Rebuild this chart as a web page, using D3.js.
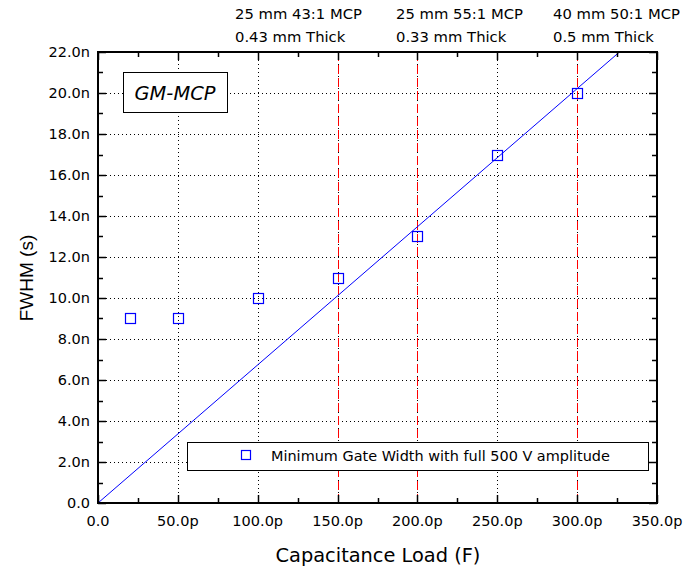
<!DOCTYPE html>
<html><head><meta charset="utf-8">
<script src="https://cdn.jsdelivr.net/npm/d3@7"></script>
<style>body{margin:0;background:#fff;} svg{display:block;}</style>
</head><body>
<script>
// Data (x in pF, y in ns)
const capacitance = [20, 50, 100, 150, 200, 250, 300];
const fwhm = [9, 9, 10, 11, 13, 17, 20];
const fitX = [0, 326.5];
const fitY = [0, 22];
const xTicks = [0, 50, 100, 150, 200, 250, 300, 350];
const xTickLabels = ["0.0","50.0p","100.0p","150.0p","200.0p","250.0p","300.0p","350.0p"];
const yTicks = [0,2,4,6,8,10,12,14,16,18,20,22];
const yTickLabels = ["0.0","2.0n","4.0n","6.0n","8.0n","10.0n","12.0n","14.0n","16.0n","18.0n","20.0n","22.0n"];
const markerLines = [150, 200, 300];
const annotations = [
  ["25 mm 43:1 MCP", "0.43 mm Thick"],
  ["25 mm 55:1 MCP", "0.33 mm Thick"],
  ["40 mm 50:1 MCP", "0.5 mm Thick"]
];
const legendLabel = "Minimum Gate Width with full 500 V amplitude";
const boxLabel = "GM-MCP";
const xTitle = "Capacitance Load (F)";
const yTitle = "FWHM (s)";

const W = 690, H = 572;
const L = 98, R = 657, T = 52, B = 503;
const font = "DejaVu Sans, Tahoma, sans-serif";
const svg = d3.select("body").append("svg").attr("width", W).attr("height", H);
const x = d3.scaleLinear().domain([0, 350]).range([L, R]);
const y = d3.scaleLinear().domain([0, 22]).range([B, T]);
const px = v => Math.round(x(v)) + 0.5;
const py = v => Math.round(y(v)) + 0.5;

// fit a text element's font-size so its width matches target
function fitWidth(sel, target) {
  const n = sel.node();
  const fs = +sel.attr("font-size");
  const w = n.getComputedTextLength();
  if (w > 0) sel.attr("font-size", (fs * target / w).toFixed(2));
  return sel;
}

// grid
const g = svg.append("g");
g.selectAll(".vg").data(xTicks.slice(1, -1)).enter().append("line")
  .attr("x1", d => px(d)).attr("x2", d => px(d)).attr("y1", T).attr("y2", B)
  .attr("stroke", "#000").attr("stroke-width", 1).attr("stroke-dasharray", "1,3");
g.selectAll(".hg").data(yTicks.slice(1, -1)).enter().append("line")
  .attr("x1", L).attr("x2", R).attr("y1", d => py(d)).attr("y2", d => py(d))
  .attr("stroke", "#000").attr("stroke-width", 1).attr("stroke-dasharray", "1,3");
// red dashed markers
g.selectAll(".rl").data(markerLines).enter().append("line")
  .attr("x1", d => px(d)).attr("x2", d => px(d)).attr("y1", T).attr("y2", B)
  .attr("stroke", "#ff0000").attr("stroke-width", 1).attr("stroke-dasharray", "9,4");

// fit line
svg.append("clipPath").attr("id", "clip").append("rect").attr("x", L).attr("y", T).attr("width", R - L).attr("height", B - T);
svg.append("path").attr("clip-path", "url(#clip)")
  .datum(fitX.map((v, i) => [v, fitY[i]]))
  .attr("d", d3.line().x(d => x(d[0])).y(d => y(d[1])))
  .attr("fill", "none").attr("stroke", "#0000ff").attr("stroke-width", 1);

// points
svg.selectAll(".pt").data(capacitance).enter().append("rect")
  .attr("x", d => px(d) - 5).attr("y", (d, i) => py(fwhm[i]) - 5)
  .attr("width", 10).attr("height", 10)
  .attr("fill", "none").attr("stroke", "#0000ff").attr("stroke-width", 1.2);

// axes ticks (inward)
const minorX = d3.range(25, 350, 50);
const minorY = d3.range(1, 22, 2);
function ticks(vals, len, axis) {
  vals.forEach(v => {
    if (axis === "x") {
      svg.append("line").attr("x1", px(v)).attr("x2", px(v)).attr("y1", B).attr("y2", B - len).attr("stroke", "#000").attr("stroke-width", 1.5);
      svg.append("line").attr("x1", px(v)).attr("x2", px(v)).attr("y1", T).attr("y2", T + len).attr("stroke", "#000").attr("stroke-width", 1.5);
    } else {
      svg.append("line").attr("x1", L).attr("x2", L + len).attr("y1", py(v)).attr("y2", py(v)).attr("stroke", "#000").attr("stroke-width", 1.5);
      svg.append("line").attr("x1", R).attr("x2", R - len).attr("y1", py(v)).attr("y2", py(v)).attr("stroke", "#000").attr("stroke-width", 1.5);
    }
  });
}
ticks(xTicks, 8, "x"); ticks(minorX, 5, "x");
ticks(yTicks, 8, "y"); ticks(minorY, 5, "y");

// frame
svg.append("rect").attr("x", L).attr("y", T).attr("width", R - L).attr("height", B - T)
  .attr("fill", "none").attr("stroke", "#000").attr("stroke-width", 2);

// tick labels
svg.selectAll(".xl").data(xTicks).enter().append("text")
  .attr("x", d => x(d)).attr("y", B + 23).attr("text-anchor", "middle")
  .attr("font-family", font).attr("font-size", 14.5).text((d, i) => xTickLabels[i]);
svg.selectAll(".yl").data(yTicks).enter().append("text")
  .attr("x", L - 8).attr("y", d => y(d) + 5).attr("text-anchor", "end")
  .attr("font-family", font).attr("font-size", 14.5).text((d, i) => yTickLabels[i]);

// titles
fitWidth(svg.append("text").attr("x", 378).attr("y", 562).attr("text-anchor", "middle")
  .attr("font-family", font).attr("font-size", 19).text(xTitle), 205);
svg.append("text").attr("transform", `translate(33,278) rotate(-90)`).attr("text-anchor", "middle")
  .attr("font-family", "Liberation Sans, Arial, sans-serif").attr("font-size", 19).text(yTitle);

// annotations
annotations.forEach((a, i) => {
  const first = fitWidth(svg.append("text").attr("x", [235, 396, 553][i]).attr("y", 19)
    .attr("font-family", font).attr("font-size", 15).text(a[0]), 127);
  svg.append("text").attr("x", [235, 396, 553][i]).attr("y", 42)
    .attr("font-family", font).attr("font-size", first.attr("font-size")).text(a[1]);
});

// GM-MCP box
svg.append("rect").attr("x", 123.5).attr("y", 72.5).attr("width", 104).attr("height", 40)
  .attr("fill", "#fff").attr("stroke", "#000").attr("stroke-width", 1);
fitWidth(svg.append("text").attr("x", 175).attr("y", 100).attr("text-anchor", "middle")
  .attr("font-family", font).attr("font-style", "italic").attr("font-size", 20).text(boxLabel), 81);

// legend
svg.append("rect").attr("x", 187.5).attr("y", 442.5).attr("width", 461).attr("height", 28)
  .attr("fill", "#fff").attr("stroke", "#000").attr("stroke-width", 1);
svg.append("rect").attr("x", 241.5).attr("y", 450.5).attr("width", 9).attr("height", 9)
  .attr("fill", "none").attr("stroke", "#0000ff").attr("stroke-width", 1.2);
fitWidth(svg.append("text").attr("x", 271).attr("y", 461)
  .attr("font-family", font).attr("font-size", 14).text(legendLabel), 339);
</script>
</body></html>
